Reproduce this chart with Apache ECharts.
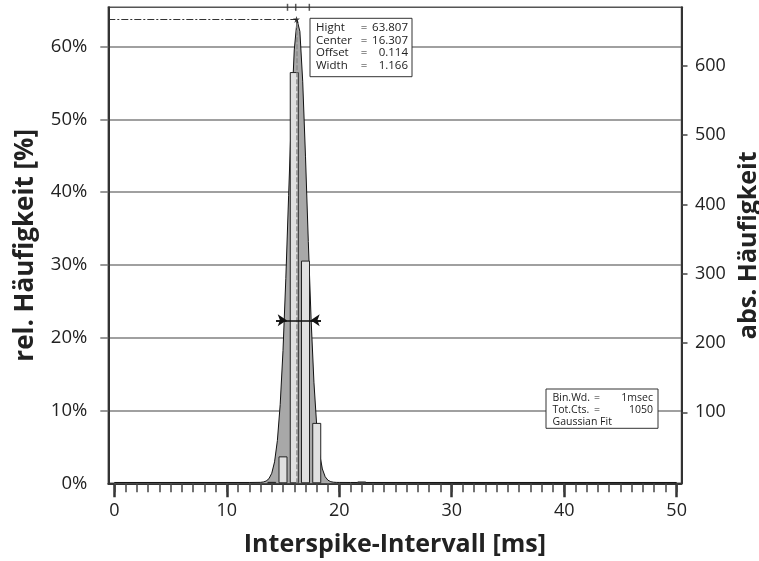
<!DOCTYPE html>
<html><head><meta charset="utf-8">
<script src="https://cdn.jsdelivr.net/npm/echarts@6/dist/echarts.min.js"></script>
<style>html,body{margin:0;padding:0;background:#fff}#c{width:759px;height:561px}</style>
</head><body><div id="c"></div>
<script>
// ---- data ----
const barX = [14, 15, 16, 17, 18, 22];
const barPct = [0.2, 3.7, 56.5, 30.6, 8.3, 0.25];

const fitX = [0, 12, 13, 13.25, 13.5, 13.75, 14, 14.25, 14.5, 14.75, 15, 15.25, 15.5, 15.75, 16, 16.25, 16.5, 16.75, 17, 17.25, 17.5, 17.75, 18, 18.25, 18.5, 18.75, 19, 19.25, 19.5, 19.75, 20, 21, 50];
const fitY = [0.114, 0.114, 0.13, 0.18, 0.31, 0.63, 1.38, 2.95, 5.88, 10.82, 18.25, 28.12, 39.57, 50.81, 59.54, 63.66, 62.09, 55.25, 44.85, 33.23, 22.47, 13.89, 7.85, 4.08, 1.97, 0.90, 0.42, 0.22, 0.15, 0.125, 0.12, 0.114, 0.114];

const xTickLabels = [0, 10, 20, 30, 40, 50];
const xMinorTicks = [0,1,2,3,4,5,6,7,8,9,10,11,12,13,14,15,16,17,18,19,20,21,22,23,24,25,26,27,28,29,30,31,32,33,34,35,36,37,38,39,40,41,42,43,44,45,46,47,48,49,50];
const leftTickLabels = [0, 10, 20, 30, 40, 50, 60];
const leftTicks = [10, 20, 30, 40, 50, 60];
const rightTickLabels = [100, 200, 300, 400, 500, 600];

const peakX = 16.2;
const peakY = 63.74;
const widthLineY = 22.4;
const widthLineX = [14.38, 18.38];
const widthArrowTips = [15.33, 17.46];
const topMarkX = [15.4, 16.13, 17.34];
const topMarkY = 65.4;

const infoLabels = ['Hight', 'Center', 'Offset', 'Width'];
const infoValues = ['63.807', '16.307', '0.114', '1.166'];
const binLabels = ['Bin.Wd.', 'Tot.Cts.', 'Gaussian Fit'];
const binEq = ['=', '=', ''];
const binValues = ['1msec', '1050', ''];

// ---- chart ----
const FONT = '"Open Sans", "Noto Sans", sans-serif';
const XMIN = -0.533, XMAX = 50.43;
const chart = echarts.init(document.getElementById('c'), null, {renderer: 'canvas'});

const graphic = [];
// info box (top)
graphic.push({type: 'rect', z: 100, shape: {x: 310, y: 18.3, width: 102, height: 58.4},
  style: {fill: '#fff', stroke: '#333', lineWidth: 1}});
infoLabels.forEach((t, i) => {
  const y = 28 + i * 12.6;
  graphic.push({type: 'text', z: 101, x: 316, y: y, style: {text: t, font: '11.5px ' + FONT, fill: '#222', align: 'left', verticalAlign: 'middle'}});
  graphic.push({type: 'text', z: 101, x: 364, y: y, style: {text: '=', font: '11.5px ' + FONT, fill: '#222', align: 'center', verticalAlign: 'middle'}});
  graphic.push({type: 'text', z: 101, x: 408, y: y, style: {text: infoValues[i], font: '11.5px ' + FONT, fill: '#222', align: 'right', verticalAlign: 'middle'}});
});
// bin box (bottom right)
graphic.push({type: 'rect', z: 100, shape: {x: 546, y: 389, width: 112, height: 39.3},
  style: {fill: '#fff', stroke: '#333', lineWidth: 1}});
binLabels.forEach((t, i) => {
  const y = 398.5 + i * 11.6;
  graphic.push({type: 'text', z: 101, x: 552.5, y: y, style: {text: t, font: '10.5px ' + FONT, fill: '#222', align: 'left', verticalAlign: 'middle'}});
  graphic.push({type: 'text', z: 101, x: 597, y: y, style: {text: binEq[i], font: '10.5px ' + FONT, fill: '#222', align: 'center', verticalAlign: 'middle'}});
  graphic.push({type: 'text', z: 101, x: 653, y: y, style: {text: binValues[i], font: '10.5px ' + FONT, fill: '#222', align: 'right', verticalAlign: 'middle'}});
});

const starPath = 'path://M50,0 L61,35 L98,35 L68,57 L79,91 L50,70 L21,91 L32,57 L2,35 L39,35 Z';

const option = {
  animation: false,
  backgroundColor: '#fff',
  grid: [{left: 108.3, right: 77.5, top: 7.3, bottom: 77.7, show: true, borderColor: '#555', borderWidth: 1.5,
    containLabel: false, outerBoundsMode: 'none'}],
  xAxis: [
    {type: 'value', min: XMIN, max: XMAX, position: 'bottom',
      axisLine: {show: true, onZero: false, lineStyle: {color: '#333', width: 2}},
      axisTick: {show: true, customValues: xTickLabels, length: 14, lineStyle: {color: '#333', width: 2.5}},
      axisLabel: {show: true, customValues: xTickLabels, margin: 19, fontSize: 18, color: '#222', fontFamily: FONT},
      splitLine: {show: false},
      name: 'Interspike-Intervall [ms]', nameLocation: 'middle', nameGap: 49,
      nameTextStyle: {fontSize: 25, fontWeight: 'bold', color: '#222', fontFamily: FONT}},
    {type: 'value', min: XMIN, max: XMAX, position: 'bottom',
      axisLine: {show: false, onZero: false},
      axisTick: {show: true, customValues: xMinorTicks, length: 9, lineStyle: {color: '#444', width: 1.5}},
      axisLabel: {show: false}, splitLine: {show: false}}
  ],
  yAxis: [
    {type: 'value', min: 0, max: 65.4, interval: 10, position: 'left',
      axisLine: {show: true, onZero: false, lineStyle: {color: '#333', width: 2}},
      axisTick: {show: true, customValues: leftTicks, length: 8, lineStyle: {color: '#777', width: 1.5}},
      axisLabel: {customValues: leftTickLabels, formatter: v => v + '%', margin: 21, fontSize: 18.5, color: '#222', fontFamily: FONT},
      splitLine: {show: true, lineStyle: {color: '#808080', width: 1.5}},
      name: 'rel. Häufigkeit [%]', nameLocation: 'middle', nameGap: 70,
      nameTextStyle: {fontSize: 26, fontWeight: 'bold', color: '#222', fontFamily: FONT}},
    {type: 'value', min: -2.5, max: 684.7, position: 'right',
      axisLine: {show: true, onZero: false, lineStyle: {color: '#333', width: 2}},
      axisTick: {show: true, customValues: rightTickLabels, length: 6, lineStyle: {color: '#444', width: 1.5}},
      axisLabel: {customValues: rightTickLabels, margin: 13.5, fontSize: 18, color: '#222', fontFamily: FONT},
      splitLine: {show: false},
      name: 'abs. Häufigkeit', nameLocation: 'middle', nameGap: 44,
      nameTextStyle: {fontSize: 25, fontWeight: 'bold', color: '#222', fontFamily: FONT}}
  ],
  series: [
    {type: 'line', xAxisIndex: 0, yAxisIndex: 0, z: 1, silent: true,
      data: fitX.map((x, i) => [x, fitY[i]]),
      symbol: 'none', showSymbol: false,
      lineStyle: {color: '#111', width: 1},
      areaStyle: {color: '#a8a8a8', opacity: 1}},
    {type: 'bar', xAxisIndex: 0, yAxisIndex: 0, z: 2, silent: true,
      data: barX.map((x, i) => [x, barPct[i]]),
      barWidth: 9,
      itemStyle: {color: '#e0e0e0', borderColor: '#222', borderWidth: 1},
      markLine: {silent: true, symbol: ['none', 'none'], label: {show: false}, animation: false,
        data: [
          [{coord: [peakX, 0], lineStyle: {color: '#8a8a8a', width: 1.5, type: [5, 2]}}, {coord: [peakX, peakY]}],
          [{coord: [XMIN, peakY], lineStyle: {color: '#333', width: 1, type: [7, 2, 2, 2]}}, {coord: [peakX, peakY]}],
          [{coord: [widthLineX[0], widthLineY], lineStyle: {color: '#111', width: 1.5, type: 'solid'}}, {coord: [widthLineX[1], widthLineY]}],
          [{coord: [widthLineX[0], widthLineY], symbol: 'none', lineStyle: {color: '#111', width: 1.5, type: 'solid'}}, {coord: [widthArrowTips[0], widthLineY], symbol: 'arrow', symbolSize: 9}],
          [{coord: [widthLineX[1], widthLineY], symbol: 'none', lineStyle: {color: '#111', width: 1.5, type: 'solid'}}, {coord: [widthArrowTips[1], widthLineY], symbol: 'arrow', symbolSize: 9}]
        ]}},
    {type: 'scatter', xAxisIndex: 0, yAxisIndex: 0, z: 5, silent: true,
      data: [[peakX, peakY]], symbol: starPath, symbolSize: 7, itemStyle: {color: '#111'}},
    {type: 'scatter', xAxisIndex: 0, yAxisIndex: 0, z: 5, silent: true, clip: false,
      data: topMarkX.map(x => [x, topMarkY]), symbol: 'rect', symbolSize: [1.5, 7], itemStyle: {color: '#333'}}
  ],
  graphic: graphic
};
chart.setOption(option);
</script>
</body></html>
